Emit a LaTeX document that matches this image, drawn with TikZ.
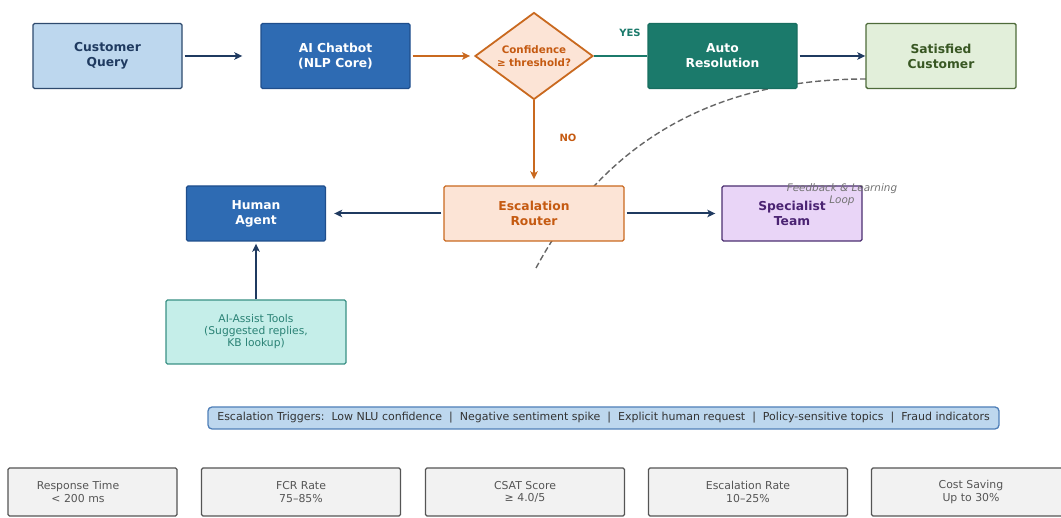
\documentclass[tikz,border=0pt]{standalone}
\usepackage{fontspec}
\setmainfont{DejaVu Sans}
\usepackage{tikz}
\usetikzlibrary{arrows.meta, shapes.geometric}

\definecolor{navy}{HTML}{1F3A60}
\definecolor{qfill}{HTML}{BDD7EE}
\definecolor{qdraw}{HTML}{2E4A6E}
\definecolor{botfill}{HTML}{2E6BB3}
\definecolor{botdraw}{HTML}{1F4E8C}
\definecolor{orfill}{HTML}{FCE4D6}
\definecolor{ordraw}{HTML}{C9691F}
\definecolor{ortext}{HTML}{C55A11}
\definecolor{teal}{HTML}{1B7A6B}
\definecolor{satfill}{HTML}{E2EFDA}
\definecolor{satdraw}{HTML}{4E6B3A}
\definecolor{sattext}{HTML}{385723}
\definecolor{spfill}{HTML}{E9D5F7}
\definecolor{spdraw}{HTML}{4B2E70}
\definecolor{sptext}{HTML}{4A2372}
\definecolor{aifill}{HTML}{C5EEE9}
\definecolor{aidraw}{HTML}{3A9185}
\definecolor{aitext}{HTML}{2A8275}
\definecolor{trdraw}{HTML}{4F7FB8}
\definecolor{kpifill}{HTML}{F2F2F2}
\definecolor{kpidraw}{HTML}{555555}

\begin{document}
\begin{tikzpicture}[x=1pt, y=-1pt,
        box/.style={rectangle, rounded corners=1.5pt, line width=1.4pt, inner sep=0pt, align=center,
            font=\fontsize{12.3}{15}\selectfont\bfseries},
        kpi/.style={rectangle, rounded corners=1.5pt, line width=1.2pt, draw=kpidraw, fill=kpifill,
            minimum height=48pt, inner sep=0pt},
        kpitext/.style={align=center, text=kpidraw, font=\fontsize{10.9}{12.5}\selectfont},
        flow/.style={line width=2pt, -{Stealth[length=8pt, width=7.5pt, inset=2pt]}}]
    \useasboundingbox (0, 0) rectangle (1061, 518);

    % dashed feedback loop, behind the boxes
    \coordinate (fb0) at (866, 79);
    \coordinate (fb1) at (536, 268);
    \draw[black!60, line width=1.4pt, dash pattern=on 6pt off 3pt] (fb0) .. controls (714, 79) and (604, 142) .. (fb1);

    % top row
    \node (query) at (107.5, 56)[box, draw=qdraw, fill=qfill, text=navy, minimum width=149pt, minimum height=65pt] {Customer\\Query};
    \node (bot) at (335.5, 56)[box, draw=botdraw, fill=botfill, text=white, minimum width=149pt, minimum height=65pt] {AI Chatbot\\(NLP Core)};
    \node (conf) at (534, 56)[diamond, aspect=1.35, draw=ordraw, fill=orfill, line width=1.8pt, inner sep=0pt, minimum width=118pt, minimum height=87pt,
        align=center, text=ortext, font=\fontsize{10.3}{12.5}\selectfont\bfseries] {Confidence\\≥ threshold?};
    \node (auto) at (722.5, 56)[box, draw=teal!90!black, fill=teal, text=white, minimum width=149pt, minimum height=65pt] {Auto\\Resolution};
    \node (sat) at (941, 56)[box, draw=satdraw, fill=satfill, text=sattext, minimum width=150pt, minimum height=65pt] {Satisfied\\Customer};

    % second row
    \node (router) at (534, 213.5)[box, draw=ordraw, fill=orfill, text=ortext, minimum width=180pt, minimum height=55pt] {Escalation\\Router};
    \node (human) at (256, 213.5)[box, draw=botdraw, fill=botfill, text=white, minimum width=139pt, minimum height=55pt] {Human\\Agent};
    \node (spec) at (792, 213.5)[box, draw=spdraw, fill=spfill, text=sptext, minimum width=140pt, minimum height=55pt] {Specialist\\Team};
    \node (tools) at (256, 332)[box, draw=aidraw, fill=aifill, text=aitext, minimum width=180pt, minimum height=64pt,
        font=\fontsize{10.7}{12}\selectfont] {AI-Assist Tools\\(Suggested replies,\\KB lookup)};

    \node (fbl) at (842, 195)[align=center, text=black!55, font=\fontsize{10.4}{12}\selectfont\itshape] {Feedback \& Learning\\Loop};

    % connectors
    \draw[flow, navy, shorten <=2pt, shorten >=18pt] (query) -- (bot);
    \draw[flow, ordraw, shorten <=2pt, shorten >=4pt] (bot) -- (conf);
    \draw[teal, line width=2pt] (conf.east) -- (auto.west);
    \node (yes) at (630, 33)[text=teal, font=\fontsize{10}{12}\selectfont\bfseries] {YES};
    \draw[flow, navy, shorten <=2pt] (auto) -- (sat);
    \draw[flow, ordraw, shorten >=6pt] (conf.south) -- (router.north);
    \node (no) at (568, 138)[text=ortext, font=\fontsize{10}{12}\selectfont\bfseries] {NO};
    \draw[flow, navy, shorten <=2pt, shorten >=8pt] (router) -- (human);
    \draw[flow, navy, shorten <=2pt, shorten >=6pt] (router) -- (spec);
    \draw[flow, navy, shorten >=2pt] (tools) -- (human);

    % escalation triggers
    \node (trig) at (603.5, 418)[rectangle, rounded corners=4pt, draw=trdraw, fill=qfill, line width=1.3pt,
        minimum width=791pt, minimum height=22pt, inner sep=0pt, text=black!80, font=\fontsize{11}{12}\selectfont]
        {Escalation Triggers:\ \ Low NLU confidence\ \ |\ \ Negative sentiment spike\ \ |\ \ Explicit human request\ \ |\ \ Policy-sensitive topics\ \ |\ \ Fraud indicators};

    % metrics row
    \node (k1) at (92.5, 492)[kpi, minimum width=169pt] {};
    \node (k1t) at (78, 492)[kpitext] {Response Time\\< 200 ms};
    \foreach \name/\cx/\txt in {k2/301/{FCR Rate\\75--85\%}, k3/525/{CSAT Score\\≥ 4.0/5},
            k4/748/{Escalation Rate\\10--25\%}, k5/971/{Cost Saving\\Up to 30\%}} {
        \node (\name) at (\cx, 492)[kpi, minimum width=199pt] {};
        \node (\name t) at (\cx, 492)[kpitext] {\txt};
    }
\end{tikzpicture}
\end{document}
